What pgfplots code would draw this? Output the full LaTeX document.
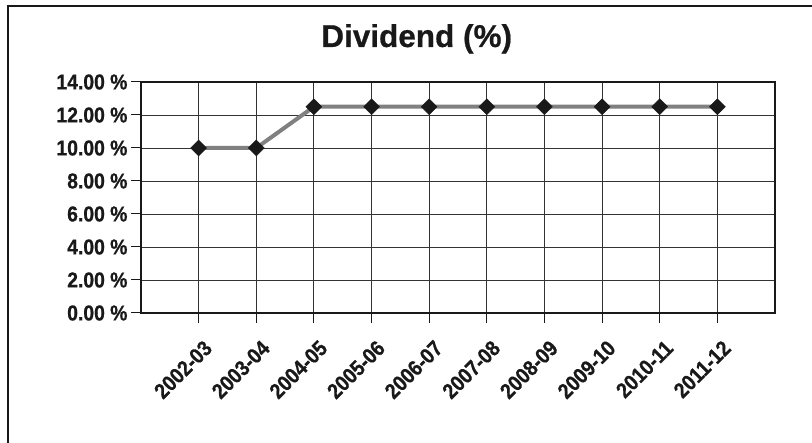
\documentclass[border=0pt]{standalone}
\usepackage{fontspec}
\setmainfont{Liberation Sans}[BoldFont={Liberation Sans Bold}]
\newfontfamily\titlefont[FakeBold=0.6]{Liberation Sans Bold}
\newfontfamily\narrowbold[FakeStretch=0.9, FakeBold=0.8]{Liberation Sans Bold}
\usepackage{pgfplots}
\pgfplotsset{compat=1.18}
\begin{document}
\begin{tikzpicture}[x=1pt,y=1pt]
\useasboundingbox (0,0) rectangle (812,443);
\draw[line width=2pt, color=black!90] (8,-5) -- (8,437) -- (820,437);
\node[anchor=base, font=\titlefont\fontsize{31.5}{33}\selectfont, text=black!90, inner sep=0pt] at (416.7,396) {Dividend (\%)};
\begin{axis}[
  at={(141pt,130pt)}, anchor=south west,
  scale only axis, width=634pt, height=231pt,
  xmin=-1, xmax=10, ymin=0, ymax=14,
  xtick={0,...,9},
  xticklabels={2002-03,2003-04,2004-05,2005-06,2006-07,2007-08,2008-09,2009-10,2010-11,2011-12},
  ytick={0,2,...,14},
  yticklabels={0.00 \%,2.00 \%,4.00 \%,6.00 \%,8.00 \%,10.00 \%,12.00 \%,14.00 \%},
  grid=major,
  major grid style={line width=0.9pt, color=black!80},
  axis line style={line width=1.8pt, color=black!90},
  tick align=outside, major tick length=10pt,
  tick style={line width=1pt, color=black!90},
  x tick label style={font=\narrowbold\fontsize{21.5}{23}\selectfont, xshift=12pt, yshift=-19pt, rotate=45, anchor=east, text=black!90},
  y tick label style={font=\narrowbold\fontsize{21.5}{23}\selectfont, text=black!90},
  xtick pos=bottom, ytick pos=left,
  clip=false,
]
\addplot[line width=4pt, color=black!50, mark=square*, mark size=5.6pt,
  mark options={rotate=45, fill=black!90, draw=black!90, line width=0.5pt}]
  coordinates {(0,10) (1,10) (2,12.5) (3,12.5) (4,12.5) (5,12.5) (6,12.5) (7,12.5) (8,12.5) (9,12.5)};
\end{axis}
\end{tikzpicture}
\end{document}
